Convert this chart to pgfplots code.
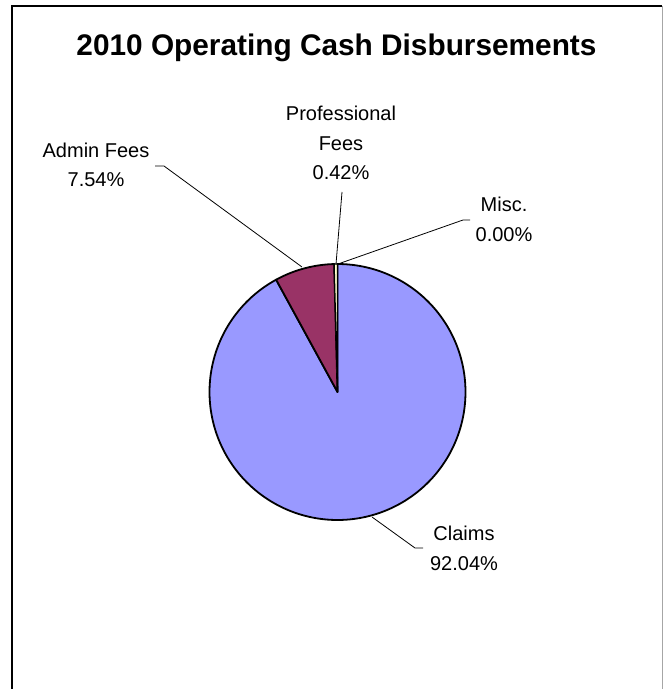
\documentclass[border=0pt]{standalone}
\usepackage{pgfplots}
\usepackage{pgfplotstable}
\pgfplotsset{compat=1.18}
\usepackage{fontspec}
\setmainfont{Liberation Sans}

\definecolor{claims}{HTML}{9999FF}
\definecolor{admin}{HTML}{993366}
\definecolor{prof}{HTML}{FFFFCC}
\definecolor{misc}{HTML}{CCFFFF}

% share of each category, percent
\pgfplotstableread{
cat pct
Claims 92.04
Admin 7.54
Prof 0.42
Misc 0.00
}\shares

\pgfplotstablegetelem{0}{pct}\of\shares \let\pClaims\pgfplotsretval
\pgfplotstablegetelem{1}{pct}\of\shares \let\pAdmin\pgfplotsretval
\pgfplotstablegetelem{2}{pct}\of\shares \let\pProf\pgfplotsretval

% slices run clockwise from 12 o'clock
\pgfmathsetmacro\aA{90-3.6*\pClaims}
\pgfmathsetmacro\aB{\aA-3.6*\pAdmin}
\pgfmathsetmacro\aC{\aB-3.6*\pProf}

\def\cx{337.5}
\def\cy{392}
\def\r{128}

\begin{document}
\begin{tikzpicture}
\useasboundingbox (0,0) rectangle (663bp,689bp);
\begin{axis}[
    at={(0,0)}, anchor=south west,
    width=663bp, height=689bp, scale only axis,
    xmin=0, xmax=663, ymin=0, ymax=689,
    y dir=reverse,
    hide axis, clip=false,
    every axis plot/.append style={line join=round},
  ]
  % chart area frame
  \draw[black, line width=2.5bp] (axis cs:12,689) -- (axis cs:12,6) -- (axis cs:662,6);
  \draw[gray!70, line width=1bp] (axis cs:662,6) -- (axis cs:662,689);

  \addplot[draw=black, line width=1.8bp, fill=claims, domain=\aA:90, samples=200]
    ({\cx+\r*cos(x)}, {\cy-\r*sin(x)}) -- (axis cs:\cx,\cy) -- cycle;
  \addplot[draw=black, line width=1.8bp, fill=admin, domain=\aB:\aA, samples=30]
    ({\cx+\r*cos(x)}, {\cy-\r*sin(x)}) -- (axis cs:\cx,\cy) -- cycle;
  \addplot[draw=black, line width=1.2bp, fill=prof, domain=\aC:\aB, samples=5]
    ({\cx+\r*cos(x)}, {\cy-\r*sin(x)}) -- (axis cs:\cx,\cy) -- cycle;

  % leader lines
  \draw[black, line width=0.8bp] (axis cs:155,166) -- (axis cs:164,166) -- (axis cs:302,267);
  \draw[black, line width=0.8bp] (axis cs:342,192) -- (axis cs:336,264);
  \draw[black, line width=0.8bp] (axis cs:338,264) -- (axis cs:463,220) -- (axis cs:470,220);
  \draw[black, line width=0.8bp] (axis cs:372,517) -- (axis cs:415,548) -- (axis cs:423,548);

  \node[font=\fontsize{29.8bp}{34bp}\selectfont\bfseries] at (axis cs:336.5,48) {2010 Operating Cash Disbursements};

  \begin{scope}[every node/.style={align=center, font=\fontsize{20bp}{29.5bp}\selectfont}]
    \node at (axis cs:96,165) {Admin Fees\\7.54\%};
    \node at (axis cs:341,143) {Professional\\Fees\\0.42\%};
    \node at (axis cs:504,219.5) {Misc.\\0.00\%};
    \node at (axis cs:464,548.5) {Claims\\92.04\%};
  \end{scope}
\end{axis}
\end{tikzpicture}
\end{document}
